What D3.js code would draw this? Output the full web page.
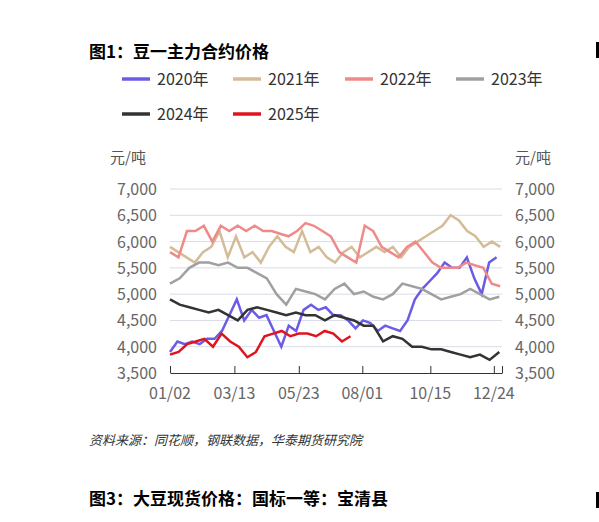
<!DOCTYPE html><html><head><meta charset="utf-8"><script src="https://cdn.jsdelivr.net/npm/d3@7"></script>
<style>body{margin:0;background:#fff;font-family:"Noto Sans CJK SC","Noto Sans",sans-serif}</style></head><body><svg id="c" width="599" height="522"></svg>
<script>
const years=["2020年","2021年","2022年","2023年","2024年","2025年"];
const colors=["#6b5ce7","#d4bc98","#f08a8a","#a0a0a0","#333333","#e0141e"];
const endDays=[361,365,365,364,364,200];
const s2020=[3900,4100,4050,4100,4050,4150,4150,4300,4600,4900,4500,4700,4550,4600,4300,4000,4400,4300,4700,4800,4700,4750,4600,4600,4500,4350,4500,4450,4300,4400,4350,4300,4500,4900,5100,5250,5400,5600,5500,5500,5700,5300,5000,5600,5700];
const s2021=[5900,5800,5700,5600,5800,5900,6200,5700,6100,5700,5800,5600,5900,6100,5900,5800,6200,5800,5900,5700,5600,5800,5900,5700,5800,5900,5800,5900,5700,5900,6000,6100,6200,6300,6500,6400,6200,6100,5900,6000,5900];
const s2022=[5800,5700,6200,6200,6300,6000,6300,6200,6300,6200,6300,6200,6200,6150,6100,6200,6350,6300,6200,6100,5800,5700,5600,6300,6200,5900,5800,5700,5900,6000,5800,5600,5500,5500,5500,5600,5550,5500,5200,5150];
const s2023=[5200,5300,5500,5600,5600,5550,5600,5500,5500,5400,5300,5000,4800,5100,5050,5000,4900,5100,5200,5000,5050,4950,4900,5000,5200,5150,5100,5000,4900,4950,5000,5100,5000,4900,4950];
const s2024=[4900,4800,4750,4700,4650,4700,4600,4500,4700,4750,4700,4650,4600,4650,4600,4600,4500,4600,4550,4500,4400,4400,4100,4200,4150,4000,4000,3950,3950,3900,3850,3800,3850,3750,3900];
const s2025=[3850,3900,4050,4100,4150,4000,4250,4100,4000,3800,3900,4200,4250,4300,4200,4250,4250,4200,4300,4250,4100,4200];
const series=[s2020,s2021,s2022,s2023,s2024,s2025];
const tickDays=[1,72,143,213,288,358];
const tickLabels=["01/02","03/13","05/23","08/01","10/15","12/24"];
const yTicks=[3500,4000,4500,5000,5500,6000,6500,7000];

const svg=d3.select("#c");
const x=d3.scaleLinear().domain([1,367]).range([170,502]);
const y=d3.scaleLinear().domain([3500,7000]).range([373,189]);
svg.append("text").attr("x",89).attr("y",58).attr("font-size",17).attr("font-weight","bold").text("图1：豆一主力合约价格");
const leg=[[122,79],[233,79],[345,79],[456,79],[122,114],[233,114]];
years.forEach((t,i)=>{const g=svg.append("g").attr("transform",`translate(${leg[i][0]},${leg[i][1]})`);
 g.append("line").attr("x1",0).attr("x2",28).attr("stroke",colors[i]).attr("stroke-width",3.5);
 g.append("text").attr("x",35).attr("y",6).attr("font-size",16).attr("fill","#333").text(t);});
svg.append("text").attr("x",110).attr("y",163).attr("font-size",15).attr("fill","#555").text("元/吨");
svg.append("text").attr("x",515).attr("y",163).attr("font-size",15).attr("fill","#555").text("元/吨");
yTicks.forEach(v=>{ if(v>3500) svg.append("line").attr("x1",170).attr("x2",502).attr("y1",y(v)).attr("y2",y(v)).attr("stroke","#d9dce8");
 svg.append("text").attr("x",157).attr("y",y(v)+6).attr("text-anchor","end").attr("font-size",16).attr("fill","#666").text(d3.format(",")(v));
 svg.append("text").attr("x",515).attr("y",y(v)+6).attr("font-size",16).attr("fill","#666").text(d3.format(",")(v));});
const ax=svg.append("g").attr("transform","translate(0,373)").call(d3.axisBottom(x).tickValues(tickDays.concat([367])).tickFormat("").tickSize(7).tickSizeOuter(0));
ax.select(".domain").attr("stroke","#333");ax.selectAll(".tick line").attr("stroke","#333").attr("transform","translate(0,0)");
ax.selectAll(".tick line").attr("y2",-7);
tickDays.forEach((d,i)=>svg.append("text").attr("x",x(d)).attr("y",399).attr("text-anchor","middle").attr("font-size",16).attr("fill","#666").text(tickLabels[i]));
const line=d3.line().x(d=>x(d[0])).y(d=>y(d[1]));
[0,1,2,3,4,5].forEach(i=>{const s=series[i];const n=s.length;
 const pts=s.map((v,j)=>[1+j*(endDays[i]-1)/(n-1),v]);
 svg.append("path").attr("d",line(pts)).attr("fill","none").attr("stroke",colors[i]).attr("stroke-width",2.5);});
svg.append("text").attr("x",89).attr("y",445).attr("font-size",13).attr("font-style","italic").attr("fill","#333").text("资料来源：同花顺，钢联数据，华泰期货研究院");
svg.append("text").attr("x",89).attr("y",505).attr("font-size",17).attr("font-weight","bold").text("图3：大豆现货价格：国标一等：宝清县");
svg.append("rect").attr("x",596).attr("y",42).attr("width",3).attr("height",16).attr("fill","#000");
svg.append("rect").attr("x",596).attr("y",492).attr("width",3).attr("height",16).attr("fill","#000");
</script></body></html>
